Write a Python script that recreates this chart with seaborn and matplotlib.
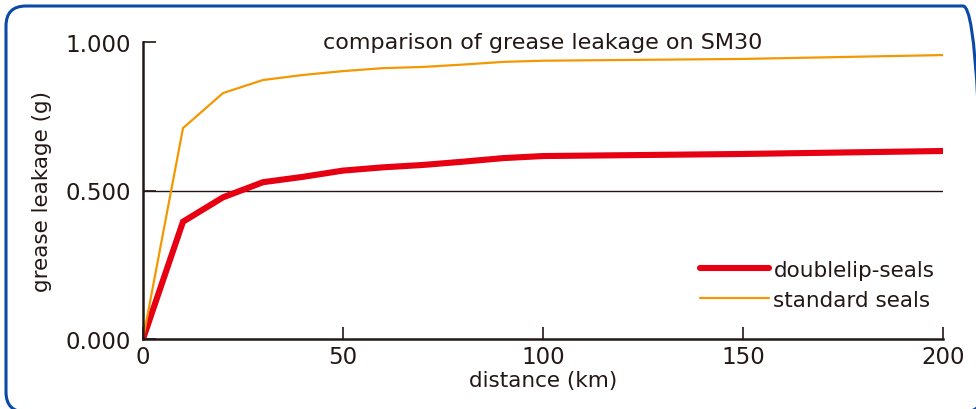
#! /usr/bin/env python3

"""Grease leakage on SM30: doublelip seals vs standard seals."""

import seaborn as sns
import matplotlib.pyplot as plt
from matplotlib.patches import FancyBboxPatch
import pandas

distance_km = [0, 10, 20, 30, 40, 50, 60, 70, 80, 90, 100, 150, 200]
doublelip_g = [0.000, 0.395, 0.477, 0.528, 0.546, 0.567, 0.578, 0.586, 0.597,
               0.609, 0.616, 0.623, 0.633]
standard_g = [0.000, 0.710, 0.828, 0.872, 0.889, 0.902, 0.912, 0.916, 0.924,
              0.933, 0.937, 0.943, 0.956]

series_names = ["doublelip-seals", "standard seals"]
series_colors = ["#e60012", "#f39800"]
series_widths = [4.4, 1.6]

ink = "#231815"


def main():
    df = pandas.DataFrame({
        "distance": distance_km * 2,
        "leakage": doublelip_g + standard_g,
        "seal": [series_names[0]] * len(distance_km) + [series_names[1]] * len(distance_km),
    })

    sns.set_style("ticks")
    plt.rcParams["font.family"] = ["DejaVu Sans"]

    fig = plt.figure(figsize=(9.76, 4.1), dpi=100)
    ax = fig.add_axes([143 / 976, 70 / 410, 800 / 976, 297 / 410])

    for name, color, lw in zip(series_names, series_colors, series_widths):
        sns.lineplot(data=df[df["seal"] == name], x="distance", y="leakage",
                     color=color, linewidth=lw, label=name, ax=ax,
                     solid_joinstyle="miter")

    ax.axhline(0.5, color=ink, linewidth=1.0, zorder=1)

    ax.set_xlim(0, 200)
    ax.set_ylim(0, 1.0)
    ax.set_xticks([0, 50, 100, 150, 200])
    ax.set_yticks([0.0, 0.5, 1.0])
    ax.set_yticklabels(["0.000", "0.500", "1.000"])
    ax.tick_params(axis="both", direction="in", length=9, width=1.2,
                   color=ink, labelcolor=ink, labelsize=16.5)
    ax.tick_params(axis="x", pad=4)
    ax.tick_params(axis="y", pad=8.5)

    for side in ["top", "right"]:
        ax.spines[side].set_visible(False)
    for side in ["left", "bottom"]:
        ax.spines[side].set_color(ink)
        ax.spines[side].set_linewidth(1.8)

    ax.set_xlabel("distance (km)", fontsize=15.5, color=ink, labelpad=2)
    ax.set_ylabel("grease leakage (g)", fontsize=15.5, color=ink, labelpad=10)

    ax.text(0.5, 1.0, "comparison of grease leakage on SM30", transform=ax.transAxes,
            ha="center", va="center", fontsize=16, color=ink)

    leg = ax.legend(loc="lower right", frameon=False, fontsize=15.5,
                    handlelength=3.2, handletextpad=0.2, labelspacing=0.45,
                    bbox_to_anchor=(1.0, 0.07), borderaxespad=0)
    for text in leg.get_texts():
        text.set_color(ink)

    # rounded frame round the whole picture, drawn in inches so corners stay round
    border = FancyBboxPatch((0.06, -0.03), 9.77, 4.06,
                            boxstyle="round,pad=0,rounding_size=0.2",
                            transform=fig.dpi_scale_trans, fill=False,
                            edgecolor="#0a4aa6", linewidth=2.2, clip_on=False)
    fig.patches.append(border)

    fig.savefig("out.png", dpi=100)


if __name__ == "__main__":
    main()
